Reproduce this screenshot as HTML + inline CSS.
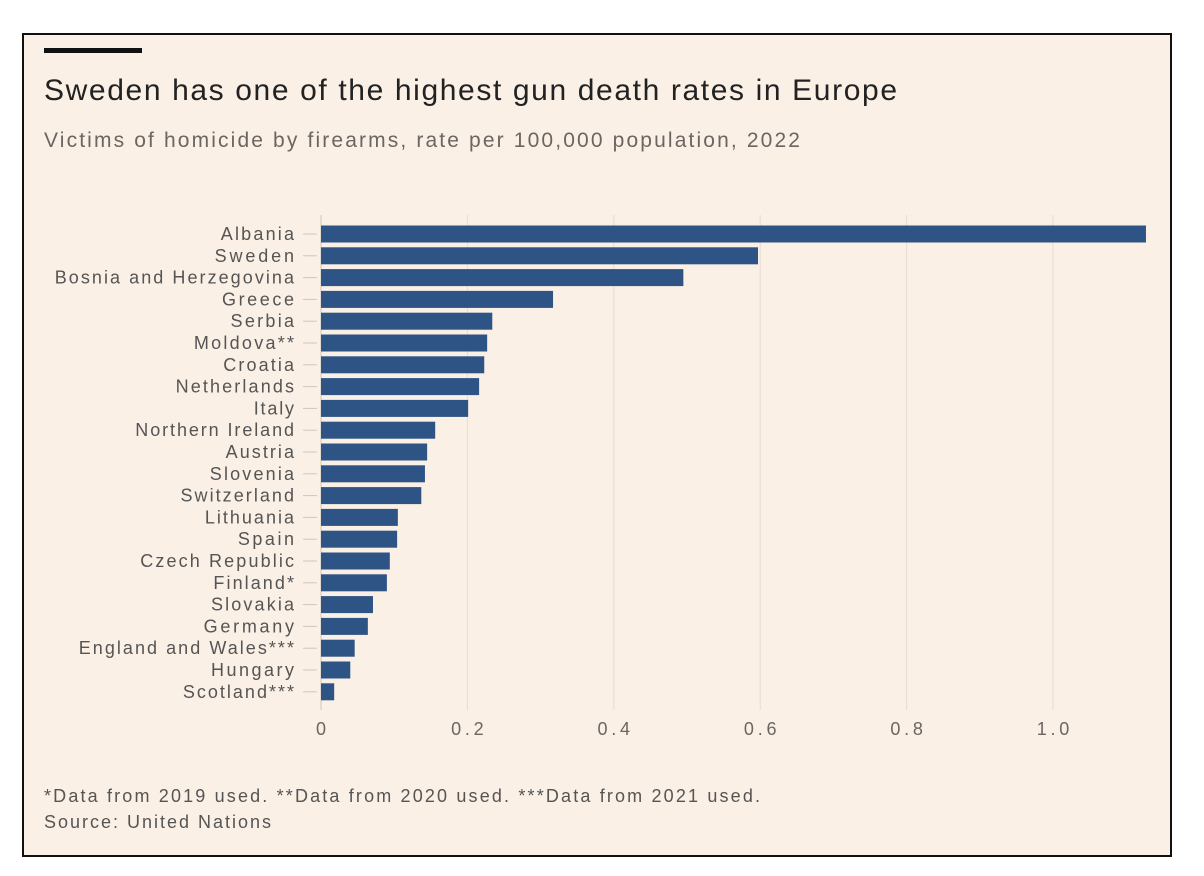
<!DOCTYPE html>
<html><head><meta charset="utf-8"><style>
body{margin:0;width:1204px;height:876px;background:#fff;overflow:hidden;font-family:"Liberation Sans",sans-serif}
#card{position:absolute;left:22px;top:33px;width:1146px;height:820px;border:2px solid #111;background:#faf0e6}
</style></head><body>
<div id="card"></div>
<svg id="chart" width="1204" height="876" style="position:absolute;left:0;top:0">
<rect x="44" y="48" width="98" height="5" fill="#111"/>
<text x="44" y="100" font-size="30" fill="#222" textLength="853" lengthAdjust="spacing">Sweden has one of the highest gun death rates in Europe</text>
<text x="44" y="147" font-size="21" fill="#6b6661" textLength="756" lengthAdjust="spacing">Victims of homicide by firearms, rate per 100,000 population, 2022</text>
<text x="44" y="802" font-size="18" fill="#555" textLength="716" lengthAdjust="spacing">*Data from 2019 used. **Data from 2020 used. ***Data from 2021 used.</text>
<text x="44" y="828" font-size="18" fill="#555" textLength="227" lengthAdjust="spacing">Source: United Nations</text>
<g id="plot"></g>
</svg>
<script>
const categories=["Albania","Sweden","Bosnia and Herzegovina","Greece","Serbia","Moldova**","Croatia","Netherlands","Italy","Northern Ireland","Austria","Slovenia","Switzerland","Lithuania","Spain","Czech Republic","Finland*","Slovakia","Germany","England and Wales***","Hungary","Scotland***"];
const values=[1.127,0.597,0.495,0.317,0.234,0.227,0.223,0.216,0.201,0.156,0.145,0.142,0.137,0.105,0.104,0.094,0.090,0.071,0.064,0.046,0.040,0.018];
const ticks=[0,0.2,0.4,0.6,0.8,1.0];
const tickLabels=["0","0.2","0.4","0.6","0.8","1.0"];
const NS="http://www.w3.org/2000/svg";
const g=document.getElementById('plot');
const x=v=>321+v*732;
const y=i=>234+i*21.8;
function mk(t,a){const e=document.createElementNS(NS,t);for(const k in a)e.setAttribute(k,a[k]);g.appendChild(e);return e;}
function widen(t,f){const w=t.getComputedTextLength();t.setAttribute('textLength',w*f);t.setAttribute('lengthAdjust','spacing');}
ticks.forEach((t,i)=>{
 const l=mk('line',{x1:x(t),x2:x(t),y1:215,y2:710,stroke:i==0?'#cfc6bd':'#e6ddd3','stroke-width':1});
 
 
 const tx=mk('text',{x:x(t),y:735,'font-size':18,fill:'#6b6661','text-anchor':'middle'});
 tx.textContent=tickLabels[i];
 
 
 widen(tx,1.3);
});
categories.forEach((c,i)=>{
 const tk=mk('line',{x1:303,x2:317,y1:y(i),y2:y(i),stroke:'#cfc6bd','stroke-width':1});
 
 
 const b=mk('rect',{x:x(0),y:y(i)-8.5,width:x(values[i])-x(0),height:17,fill:'#2e5486'});
 
 
 const t=mk('text',{x:294,y:y(i)+6,'font-size':18,fill:'#555','text-anchor':'end'});
 t.textContent=c;
 
 
 widen(t,1.22);
});
</script>
</body></html>
